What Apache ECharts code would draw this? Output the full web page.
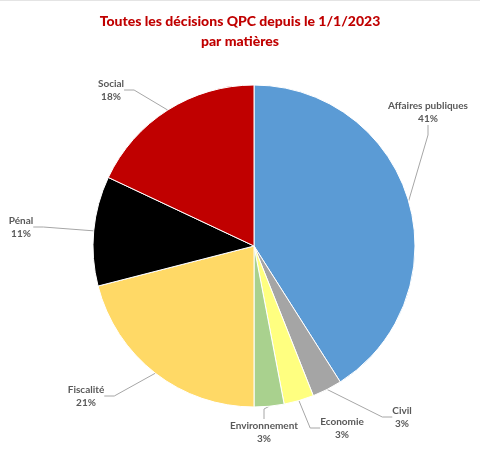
<!DOCTYPE html>
<html><head><meta charset="utf-8">
<script src="https://cdn.jsdelivr.net/npm/echarts@6/dist/echarts.min.js"></script>
<style>
html,body{margin:0;padding:0;background:#fff;}
#c{width:480px;height:448px;border-top:1px solid #e4e4e4;}
</style></head>
<body><div id="c"></div>
<script>
const categories = ['Affaires publiques','Civil','Economie','Environnement','Fiscalité','Pénal','Social'];
const values = [41, 3, 3, 3, 21, 11, 18];
const colors = ['#5B9BD5','#A5A5A5','#FFFF80','#A9D18E','#FFD966','#000000','#C00000'];
const labelPos = [[428,111],[402,416],[342,427],[264,431],[86,395],[21,226],[111,89]];

const chart = echarts.init(document.getElementById('c'), null, {renderer:'canvas'});
chart.setOption({
  animation:false,
  title:{
    text:'Toutes les décisions QPC depuis le 1/1/2023\npar matières',
    left:'center', top:5,
    textStyle:{color:'#C00000', fontFamily:'Lato', fontWeight:900, fontSize:14, lineHeight:20}
  },
  series:[{
    type:'pie',
    center:[254,245],
    radius:[0,161],
    startAngle:90,
    clockwise:true,
    itemStyle:{borderColor:'#fff', borderWidth:1},
    label:{
      show:true, position:'outside', overflow:'none',
      formatter:'{b}\n{d}%',
      color:'#595959', fontFamily:'Lato', fontWeight:'bold', fontSize:10, lineHeight:13,
      align:'center'
    },
    labelLine:{show:true, lineStyle:{color:'#A6A6A6', width:1}, length:10, length2:10},
    labelLayout:function(p){
      const q = labelPos[p.dataIndex];
      return {x:q[0], y:q[1], align:'center', verticalAlign:'middle'};
    },
    data: categories.map((n,i)=>({name:n, value:values[i], itemStyle:{color:colors[i]}}))
  }]
});
</script></body></html>
